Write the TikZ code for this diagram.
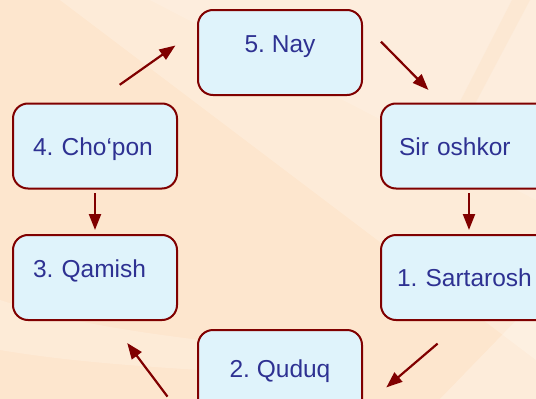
\documentclass[tikz,border=0pt]{standalone}
\usepackage{fontspec}
\setmainfont{Liberation Sans}
\usetikzlibrary{arrows.meta}
\frenchspacing

\definecolor{boxfill}{RGB}{223,243,251}
\definecolor{boxline}{RGB}{128,0,0}
\definecolor{wordblue}{RGB}{46,49,146}
\definecolor{peach}{RGB}{253,230,206}
\definecolor{deeppeach}{RGB}{251,224,194}

\tikzset{
  stage/.style={draw=boxline, line width=2pt, fill=boxfill, rounded corners=15pt,
    minimum width=164pt, minimum height=85pt, inner sep=0pt, text=wordblue,
    font=\fontsize{24.5}{29}\selectfont, text height=18pt, text depth=0pt},
  raised/.style={text depth=18pt},
  leftset/.style={text width=#1, align=left},
  flow/.style={boxline, line width=2.2pt, -{Triangle[length=16pt,width=12pt]}}
}

\begin{document}
\begin{tikzpicture}[x=1pt, y=-1pt]
\useasboundingbox (0,0) rectangle (536,399);
\clip (0,0) rectangle (536,399);

% background with soft light bands
\fill[peach] (0,0) rectangle (536,399);
\fill[white, opacity=.22] (60,0) -- (536,0) -- (536,360) -- cycle;
\fill[white, opacity=.15] (150,0) -- (536,0) -- (536,200) -- cycle;
\fill[deeppeach, opacity=.35] (512,0) -- (530,0) -- (440,170) -- (425,170) -- cycle;
\fill[white, opacity=.25] (440,399) -- (536,300) -- (536,399) -- cycle;
\fill[white, opacity=.2] (0,300) .. controls (60,320) and (120,330) .. (200,340) -- (200,370) .. controls (120,365) and (60,360) .. (0,350) -- cycle;

% the word boxes
\node[stage, raised] (nay) at (280,52.5) {5. Nay};
\node[stage, leftset=124pt] (chopon) at (95,146) {4. Cho‘pon};
\node[stage, leftset=124pt, raised] (qamish) at (95,277.5) {3. Qamish};
\node[stage, minimum width=176pt, leftset=140pt] (sir) at (469,146) {Sir oshkor};
\node[stage, minimum width=176pt, leftset=144pt] (sart) at (469,277.5) {1. Sartarosh};
\node[stage, text depth=8pt] (quduq) at (280,372.5) {2. Quduq};

% free ends of the slanted arrows
\coordinate (a1) at (119.7,84.8);
\coordinate (b1) at (175.4,45.5);
\coordinate (a2) at (381,41.7);
\coordinate (b2) at (428.4,89.9);
\coordinate (a3) at (437.6,343.6);
\coordinate (b3) at (386.3,387.4);
\coordinate (a4) at (167.5,396.6);
\coordinate (b4) at (127.2,343);

\draw[flow] (a1) -- (b1);
\draw[flow] (a2) -- (b2);
\draw[flow, shorten <=3.5pt, shorten >=4pt] (sir.south) -- (sart.north);
\draw[flow] (a3) -- (b3);
\draw[flow] (a4) -- (b4);
\draw[flow, shorten <=3.5pt, shorten >=4pt] (chopon.south) -- (qamish.north);

\end{tikzpicture}
\end{document}
